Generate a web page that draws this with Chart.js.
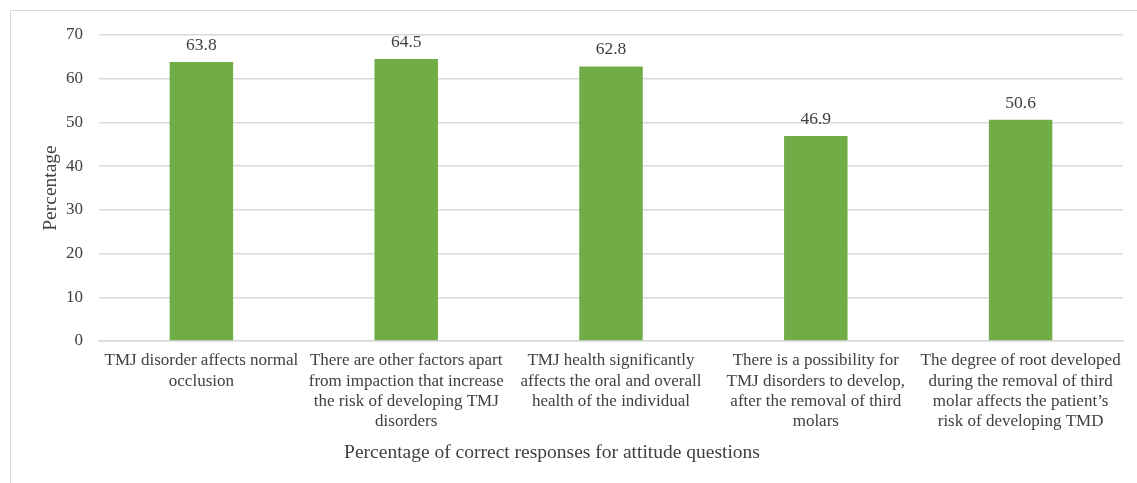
<!DOCTYPE html>
<html>
<head>
<meta charset="utf-8">
<script src="https://cdn.jsdelivr.net/npm/chart.js@4/dist/chart.umd.min.js"></script>
<style>
  html, body { margin: 0; padding: 0; background: #ffffff; }
  body { width: 1137px; height: 483px; position: relative; overflow: hidden; }
  #frame { position: absolute; left: 10px; top: 10px; width: 1200px; height: 600px;
           border: 1.5px solid #d9d9d9; box-sizing: border-box; }
  #wrap { position: absolute; left: 0; top: 0; width: 1137px; height: 483px; }
</style>
</head>
<body>
<div id="frame"></div>
<div id="wrap"><canvas id="chart"></canvas></div>
<script>
// Attitude questions and share of correct responses (%)
const categories = [
  ["TMJ disorder affects normal", "occlusion"],
  ["There are other factors apart", "from impaction that increase", "the risk of developing TMJ", "disorders"],
  ["TMJ health significantly", "affects the oral and overall", "health of the individual"],
  ["There is a possibility for", "TMJ disorders to develop,", "after the removal of third", "molars"],
  ["The degree of root developed", "during the removal of third", "molar affects the patient\u2019s", "risk of developing TMD"]
];
const percentCorrect = [63.8, 64.5, 62.8, 46.9, 50.6];
const yTicks = [0, 10, 20, 30, 40, 50, 60, 70];
const xAxisTitle = 'Percentage of correct responses for attitude questions';

const textColor = '#404040';
const serif = "'Liberation Serif', 'Times New Roman', serif";

// Writes each bar's value just above it, and the category-axis caption
const valueLabels = {
  id: 'valueLabels',
  afterDatasetsDraw(chart) {
    const ctx = chart.ctx;
    const meta = chart.getDatasetMeta(0);
    ctx.save();
    ctx.font = "17.5px " + serif;
    ctx.fillStyle = textColor;
    ctx.textAlign = 'center';
    ctx.textBaseline = 'bottom';
    meta.data.forEach((bar, i) => {
      ctx.fillText(percentCorrect[i].toFixed(1), bar.x, bar.y - 8);
    });
    // caption sits a little left of the plot centre, below the wrapped labels
    ctx.font = "19.5px " + serif;
    ctx.textBaseline = 'alphabetic';
    const xs = chart.scales.x;
    ctx.fillText(xAxisTitle, (xs.left + xs.right) / 2 - 59, xs.bottom - 25);
    ctx.restore();
  }
};

new Chart(document.getElementById('chart'), {
  type: 'bar',
  data: {
    labels: categories,
    datasets: [{
      data: percentCorrect,
      backgroundColor: '#70AD47',
      borderWidth: 0,
      categoryPercentage: 1,
      barPercentage: 0.31
    }]
  },
  options: {
    responsive: true,
    maintainAspectRatio: false,
    animation: false,
    layout: { padding: { top: 35, right: 14, left: 0, bottom: 0 } },
    plugins: { legend: { display: false }, tooltip: { enabled: false } },
    scales: {
      x: {
        grid: { display: false, drawTicks: false },
        border: { display: true, color: '#d9d9d9', width: 1.5 },
        ticks: {
          color: textColor,
          font: { family: serif, size: 17, lineHeight: 1.18 },
          padding: 10,
          maxRotation: 0,
          autoSkip: false
        },
        title: { display: false },
        afterFit(scale) { scale.height = 142; }
      },
      y: {
        min: 0,
        max: 70,
        afterBuildTicks(scale) { scale.ticks = yTicks.map(v => ({ value: v })); },
        grid: { color: '#d9d9d9', lineWidth: 1.5, drawTicks: false },
        border: { display: false },
        ticks: {
          color: textColor,
          font: { family: serif, size: 17 },
          padding: 16
        },
        title: {
          display: true,
          text: 'Percentage',
          color: textColor,
          font: { family: serif, size: 19.5 },
          padding: { top: 39, bottom: 0 }
        },
        afterFit(scale) { scale.width = 99; }
      }
    }
  },
  plugins: [valueLabels]
});
</script>
</body>
</html>
